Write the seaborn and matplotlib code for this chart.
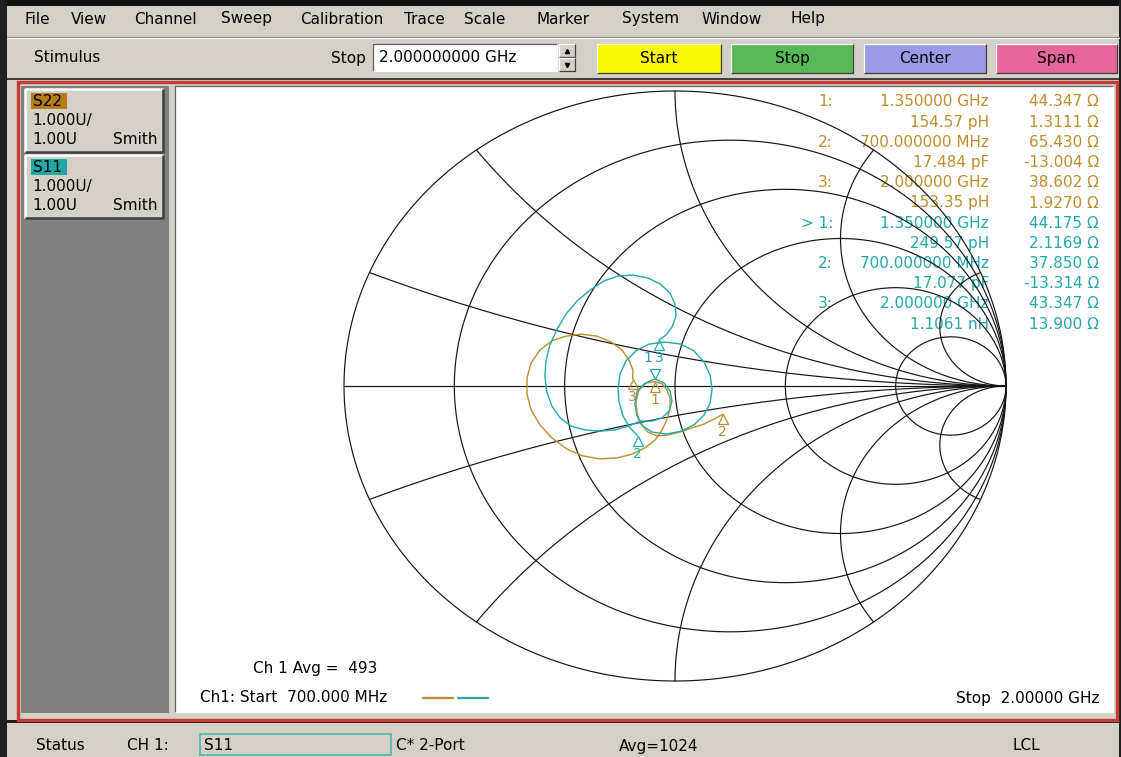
import numpy as np
import pandas as pd
import matplotlib
matplotlib.use("Agg")
import matplotlib.pyplot as plt
import seaborn as sns
from matplotlib.patches import Rectangle
from matplotlib.transforms import offset_copy

sns.set_style("white")
plt.rcParams['font.family'] = ['DejaVu Sans']

# ================= Data =================
MENU_ITEMS = ["File", "View", "Channel", "Sweep", "Calibration", "Trace",
              "Scale", "Marker", "System", "Window", "Help"]
STIM_LABEL = "Stimulus"
STOP_VALUE = "2.000000000 GHz"
SOFTKEYS = ["Start", "Stop", "Center", "Span"]

TRACE_NAMES = ["S22", "S11"]
TRACE_SCALE = ["1.000U/", "1.00U", "Smith"]

MARKER_IDS = ["1", "2", "3"]
MARKER_FREQS = ["1.350000 GHz", "700.000000 MHz", "2.000000 GHz"]
S22_EQUIV = ["154.57 pH", "17.484 pF", "153.35 pH"]
S22_R = ["44.347", "65.430", "38.602"]
S22_X = ["1.3111", "-13.004", "1.9270"]
S11_EQUIV = ["249.57 pH", "17.077 pF", "1.1061 nH"]
S11_R = ["44.175", "37.850", "43.347"]
S11_X = ["2.1169", "-13.314", "13.900"]
Z0 = 50.0

# reflection coefficient, 700 MHz -> 2 GHz
S22_RE = [0.1445, 0.118, 0.088, 0.051, 0.015, -0.021, -0.054, -0.082, -0.103, -0.115,
          -0.118, -0.109, -0.088, -0.0597, -0.039, -0.024, -0.015, -0.015, -0.024, -0.039,
          -0.060, -0.091, -0.130, -0.175, -0.227, -0.278, -0.326, -0.372, -0.408, -0.435,
          -0.447, -0.447, -0.435, -0.408, -0.372, -0.329, -0.284, -0.236, -0.193, -0.160,
          -0.139, -0.127, -0.128]
S22_IM = [-0.0964, -0.112, -0.129, -0.142, -0.156, -0.166, -0.169, -0.156, -0.129, -0.092,
          -0.051, -0.014, 0.010, 0.0147, 0.007, -0.014, -0.041, -0.075, -0.112, -0.149,
          -0.183, -0.210, -0.231, -0.244, -0.247, -0.237, -0.214, -0.176, -0.132, -0.081,
          -0.027, 0.027, 0.078, 0.122, 0.153, 0.169, 0.176, 0.169, 0.149, 0.122,
          0.088, 0.054, 0.0245]
S11_RE = [-0.1128, -0.136, -0.157, -0.169, -0.172, -0.166, -0.148, -0.118, -0.079, -0.030,
          0.018, 0.057, 0.088, 0.106, 0.112, 0.106, 0.088, 0.057, 0.018, -0.027,
          -0.069, -0.097, -0.115, -0.121, -0.115, -0.094, -0.0613, -0.033, -0.015, -0.009,
          -0.018, -0.039, -0.069, -0.103, -0.142, -0.181, -0.227, -0.272, -0.314, -0.347,
          -0.372, -0.387, -0.393, -0.390, -0.378, -0.356, -0.329, -0.296, -0.257, -0.215,
          -0.172, -0.127, -0.082, -0.045, -0.015, 0.000, 0.003, -0.009, -0.027, -0.048]
S11_IM = [-0.1687, -0.142, -0.102, -0.054, -0.007, 0.041, 0.085, 0.119, 0.142, 0.149,
          0.142, 0.119, 0.081, 0.037, -0.010, -0.058, -0.098, -0.132, -0.153, -0.163,
          -0.156, -0.136, -0.102, -0.061, -0.020, 0.007, 0.0239, 0.010, -0.017, -0.051,
          -0.085, -0.108, -0.119, -0.119, -0.136, -0.149, -0.153, -0.149, -0.136, -0.108,
          -0.068, -0.020, 0.031, 0.085, 0.139, 0.193, 0.244, 0.288, 0.325, 0.356,
          0.373, 0.376, 0.366, 0.346, 0.315, 0.278, 0.237, 0.200, 0.173, 0.156]

R_CIRCLES = [0.2, 0.5, 1, 2, 5]
X_ARCS = [0.2, 0.5, 1, 2, 5]

AVG_COUNT = "493"
START_TXT = "700.000 MHz"
STOP_TXT = "2.00000 GHz"
STATUS_TXT = ["Status", "CH 1:", "S11", "C* 2-Port", "Avg=1024", "LCL"]

# ================= Style / layout =================
W, H = 1121, 757
FS = 11
WIN = "#d4d0c8"
ORANGE = "#bf8d2c"
TEAL = "#24a8a8"
KEY_COLORS = ["#f8f800", "#58b858", "#9a9ae6", "#e6659a"]
MENU_X = [25, 71, 134, 221, 300, 404, 464, 536, 622, 701, 790]
KEY_X = [(597, 721), (731, 853), (864, 986), (996, 1117)]
STATUS_X = [36, 127, 204, 396, 619, 1013]
CX, CY, RX, RY = 675, 386, 331, 295          # smith circle on screen (stretched)
CH_X0, CH_Y0, CH_X1, CH_Y1 = 175, 86, 1113, 712

fig = plt.figure(figsize=(W / 100, H / 100), dpi=100)
fig.patch.set_facecolor(WIN)
ui = fig.add_axes([0, 0, 1, 1])
ui.set_xlim(0, W)
ui.set_ylim(H, 0)
ui.set_axis_off()


def box(x0, y0, x1, y1, fc, ec='none', lw=0.0, z=1):
    ui.add_patch(Rectangle((x0, y0), x1 - x0, y1 - y0, facecolor=fc,
                           edgecolor=ec, linewidth=lw, zorder=z))


def bevel(x0, y0, x1, y1, raised=True, z=2, lw=0.9):
    hi, lo = ('#ffffff', '#404040') if raised else ('#606060', '#ffffff')
    ui.plot([x0, x0, x1], [y1, y0, y0], color=hi, lw=lw, zorder=z, solid_capstyle='butt')
    ui.plot([x0, x1, x1], [y1, y1, y0], color=lo, lw=lw, zorder=z, solid_capstyle='butt')


def label(x, y, s, ha='left', color='black', size=FS, z=5):
    ui.text(x, y, s, ha=ha, va='center', color=color, fontsize=size, zorder=z)


# ---- window chrome ----
box(0, 0, W, 6, '#101010')
box(0, 0, 7, H, '#202020')
box(1119, 0, W, H, '#202020')
for name, x in zip(MENU_ITEMS, MENU_X):
    label(x, 19, name)
ui.plot([7, 1119], [36.5, 36.5], color='#808080', lw=0.8)
ui.plot([7, 1119], [37.5, 37.5], color='#ffffff', lw=0.8)

label(34, 58, STIM_LABEL)
label(366, 58, "Stop", ha='right')
box(373, 44, 557, 71, 'white')
bevel(373, 44, 557, 71, raised=False)
label(379, 58, STOP_VALUE)
box(559, 44, 575, 71, WIN)
bevel(559, 44, 575, 57, raised=True)
bevel(559, 58, 575, 71, raised=True)
ui.plot([567], [51], marker='^', ms=3, color='black', zorder=6)
ui.plot([567], [64.5], marker='v', ms=3, color='black', zorder=6)
for name, (x0, x1), c in zip(SOFTKEYS, KEY_X, KEY_COLORS):
    box(x0, 44, x1, 73, c)
    bevel(x0, 44, x1, 73, raised=True)
    label((x0 + x1) / 2, 58.5, name, ha='center')
box(7, 78, 1119, 80, '#404040')

# ---- main frame ----
box(18, 82, 1117, 720, 'none', ec='#c83a3a', lw=2.4, z=3)
box(21, 86, 169, 713, '#808080')
box(CH_X0, CH_Y0, CH_X1, CH_Y1, 'white')
bevel(CH_X0, CH_Y0, CH_X1, CH_Y1, raised=False, z=4)

for k, (name, bg) in enumerate(zip(TRACE_NAMES, ["#b47d14", "#20a8a8"])):
    y0 = 89 + 66 * k
    box(25, y0, 163, y0 + 63, WIN)
    bevel(25, y0, 163, y0 + 63, raised=True, lw=1.8)
    box(31, y0 + 4, 67, y0 + 20, bg, z=2)
    label(33, y0 + 12, name)
    label(32, y0 + 32, TRACE_SCALE[0])
    label(32, y0 + 51, TRACE_SCALE[1])
    label(158, y0 + 51, TRACE_SCALE[2], ha='right')

# ---- status bar ----
box(7, 720, 1119, 723, '#202020')
st_y = 746
for s, x in zip(STATUS_TXT, STATUS_X):
    if s == "S11":
        box(200, 734, 391, 755, 'none', ec='#4cb8a8', lw=1.2, z=3)
    label(x, st_y, s)

# ---- marker table and chart annotations ----
rows = []
for names, equiv, rr, xx, col, pre in [
        (MARKER_IDS, S22_EQUIV, S22_R, S22_X, ORANGE, ["1:", "2:", "3:"]),
        (MARKER_IDS, S11_EQUIV, S11_R, S11_X, TEAL, ["> 1:", "2:", "3:"])]:
    for i in range(3):
        rows.append((pre[i], MARKER_FREQS[i], rr[i] + " Ω", col))
        rows.append(("", equiv[i], xx[i] + " Ω", col))
for j, (p, mid, val, col) in enumerate(rows):
    y = 102 + 20.2 * j
    if p:
        label(833, y, p, ha='right', color=col)
    label(989, y, mid, ha='right', color=col)
    label(1099, y, val, ha='right', color=col)

label(253, 669, "Ch 1 Avg =  " + AVG_COUNT)
label(200, 698, "Ch1: Start  " + START_TXT)
ui.plot([423, 453], [698, 698], color=ORANGE, lw=1.6, zorder=5)
ui.plot([458, 488], [698, 698], color=TEAL, lw=1.6, zorder=5)
label(1100, 699, "Stop  " + STOP_TXT, ha='right')

# ================= Smith chart =================
sm = fig.add_axes([CH_X0 / W, 1 - CH_Y1 / H, (CH_X1 - CH_X0) / W, (CH_Y1 - CH_Y0) / H])
sm.patch.set_alpha(0)

GRID = dict(color='#141414', lw=0.85, zorder=1)
t = np.linspace(0, 2 * np.pi, 1200)
sm.plot(np.cos(t), np.sin(t), **GRID)
sm.plot([-1, 1], [0, 0], **GRID)
for r in R_CIRCLES:
    c, rad = r / (1 + r), 1 / (1 + r)
    sm.plot(c + rad * np.cos(t), rad * np.sin(t), **GRID)
rgrid = np.concatenate([np.linspace(0, 3, 500), np.geomspace(3, 1e5, 500)])
for x in X_ARCS:
    for sgn in (1, -1):
        g = (rgrid + 1j * sgn * x - 1) / (rgrid + 1j * sgn * x + 1)
        sm.plot(g.real, g.imag, **GRID)

df22 = pd.DataFrame({'re': S22_RE, 'im': S22_IM})
df11 = pd.DataFrame({'re': S11_RE, 'im': S11_IM})
sns.lineplot(data=df22, x='re', y='im', sort=False, estimator=None, color=ORANGE,
             lw=1.0, ax=sm, zorder=3)
sns.lineplot(data=df11, x='re', y='im', sort=False, estimator=None, color=TEAL,
             lw=1.0, ax=sm, zorder=3)


def gamma(r, x):
    z = complex(float(r), float(x)) / Z0
    g = (z - 1) / (z + 1)
    return g.real, g.imag


below = offset_copy(sm.transData, fig=fig, x=0, y=-5, units='dots')
above = offset_copy(sm.transData, fig=fig, x=0, y=5, units='dots')
for rr, xx, col, active in [(S22_R, S22_X, ORANGE, None), (S11_R, S11_X, TEAL, "1")]:
    for mid, r, x in zip(MARKER_IDS, rr, xx):
        gx, gy = gamma(r, x)
        if mid == active:
            # active marker: inverted triangle sitting on the point, label above
            sm.plot([gx], [gy], marker='v', ms=7, mfc='none', mec=col, mew=0.9,
                    ls='none', transform=above, zorder=4)
            sm.annotate(mid, (gx, gy), xytext=(-7, 21), textcoords='offset pixels',
                        ha='center', va='center', color=col, fontsize=10, zorder=4)
        else:
            sm.plot([gx], [gy], marker='^', ms=7, mfc='none', mec=col, mew=0.9,
                    ls='none', transform=below, zorder=4)
            sm.annotate(mid, (gx, gy), xytext=(0, -18), textcoords='offset pixels',
                        ha='center', va='center', color=col, fontsize=10, zorder=4)

sm.set_xlim((CH_X0 - CX) / RX, (CH_X1 - CX) / RX)
sm.set_ylim((CY - CH_Y1) / RY, (CY - CH_Y0) / RY)
sm.set_axis_off()

fig.savefig("out.png", dpi=100, facecolor=WIN)
